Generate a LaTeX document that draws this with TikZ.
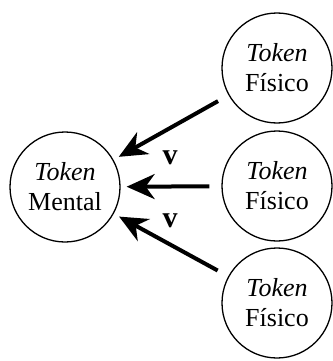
\documentclass[tikz,border=0pt]{standalone}
\usepackage{fontspec}
\setmainfont{Liberation Serif}
\usetikzlibrary{arrows.meta}

\tikzset{
  tok/.style={draw, circle, line width=1.3pt, minimum size=110pt, inner sep=0pt,
    align=center, font=\fontsize{26}{30}\selectfont},
  cause/.style={line width=4pt, -{Stealth[length=28pt,width=25pt,inset=9pt]},
    shorten <=12pt, shorten >=6pt},
  vlab/.style={font=\fontsize{30}{34}\selectfont\bfseries}
}

\begin{document}
\begin{tikzpicture}[x=1pt,y=-1pt]
      \useasboundingbox (0,0) rectangle (332,361);

      \node[tok] (mental) at (65,187) {\textit{Token}\\Mental};

      \node[tok] (fis1) at (277,68) {\textit{Token}\\Físico};
      \node[tok] (fis2) at (277,186) {\textit{Token}\\Físico};
      \node[tok] (fis3) at (277,303) {\textit{Token}\\Físico};

      \draw[cause] (fis1) -- (mental);
      \draw[cause] (fis2) -- (mental);
      \draw[cause] (fis3) -- (mental);

      \node[vlab] (v1) at (170,158) {v};
      \node[vlab] (v2) at (170,221) {v};
    \end{tikzpicture}
\end{document}
